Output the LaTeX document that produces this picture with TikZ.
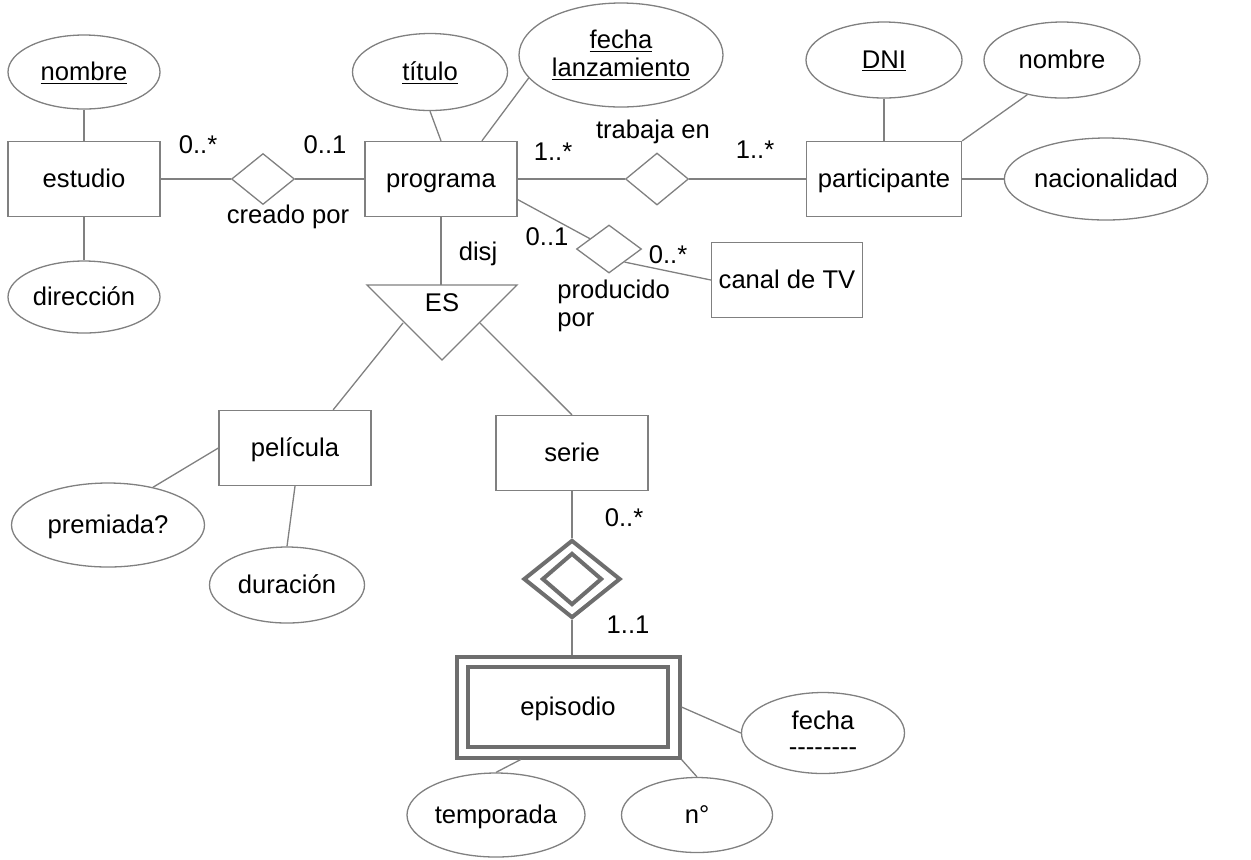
\documentclass[tikz,border=0pt]{standalone}
\usepackage{fontspec}
\setmainfont{Liberation Sans}
\usetikzlibrary{shapes,calc,positioning}
\definecolor{linegray}{RGB}{128,128,128}
\definecolor{weakgray}{RGB}{110,110,110}
\tikzset{
    every node/.style={font=\fontsize{12.8}{14}\selectfont},
    txt/.style={text height=9.5pt, text depth=1.5pt},
    entity/.style={rectangle, draw=linegray, line width=0.65pt, minimum width=76pt, minimum height=37.5pt, txt},
    attr/.style={ellipse, draw=linegray, line width=0.65pt, inner sep=0pt, minimum width=76pt, minimum height=37pt, txt},
    rel/.style={diamond, draw=linegray, line width=0.65pt, inner sep=0pt, minimum width=31.5pt, minimum height=25.5pt},
    weak/.style={rectangle, draw=weakgray, line width=2pt, inner sep=0pt, txt},
    weakrel/.style={diamond, draw=weakgray, line width=2pt, inner sep=0pt},
    conn/.style={draw=linegray, line width=0.65pt},
    card/.style={inner sep=0pt, txt},
    multi/.style={text height={}, text depth={}, align=center}
}

\begin{document}
\begin{tikzpicture}[x=0.5pt,y=-0.5pt]
    \useasboundingbox (0,0) rectangle (1251,859);

    % estudio
    \node[attr] (nombreE) at (84,72) {\underline{nombre}};
    \node[entity] (estudio) at (84,179) {estudio};
    \node[attr, minimum height=36pt] (direccion) at (84,297) {dirección};
    \node[rel] (creado) at (263,179) {};
    \node[card] (creadoL) at (288,215) {creado por};
    \node[card] (c1) at (198,145) {0..*};
    \node[card] (c2) at (325,145) {0..1};

    % programa
    \node[entity] (programa) at (441,179) {programa};
    \node[attr, minimum width=77.5pt, minimum height=38.5pt] (titulo) at (430,72) {\underline{título}};
    \node[attr, multi, minimum width=102pt, minimum height=52pt] (fechaL) at (621,55)
        {\underline{fecha}\\\underline{lanzamiento}};

    % participante
    \node[rel, minimum height=26pt] (trabaja) at (657,179) {};
    \node[card] (trabajaL) at (653,130) {trabaja en};
    \node[card] (c3) at (553,152) {1..*};
    \node[card] (c4) at (755,150) {1..*};
    \node[entity, minimum width=77.5pt] (participante) at (884,179) {participante};
    \node[attr, minimum width=78pt, minimum height=38pt] (DNI) at (884,60) {\underline{DNI}};
    \node[attr, minimum width=78pt, minimum height=38pt] (nombreP) at (1062,60) {nombre};
    \node[attr, minimum width=91.5pt, minimum height=41pt] (nacionalidad) at (1106,179) {nacionalidad};

    % canal de TV
    \node[rel, minimum width=32.5pt, minimum height=24pt] (producido) at (609,249) {};
    \node[card, multi, align=left, anchor=west] (producidoL) at (557,306) {producido\\por};
    \node[card] (c5) at (547,237) {0..1};
    \node[card] (c6) at (668,255) {0..*};
    \node[entity, minimum width=75.5pt] (canal) at (787,280) {canal de TV};

    % jerarquia
    \coordinate (estop) at (441,285);
    \coordinate (esl) at (403,323);
    \coordinate (esr) at (480,323);
    \draw[conn] (367,285) -- (517,285) -- (442,360) -- cycle;
    \node[card] (ES) at (442,303) {ES};
    \node[card] (disj) at (478,252) {disj};
    \node[entity] (pelicula) at (295,448) {película};
    \node[entity] (serie) at (572,453) {serie};
    \node[attr, minimum width=96.5pt, minimum height=42pt] (premiada) at (108,525) {premiada?};
    \node[attr, minimum width=77.5pt, minimum height=38pt] (duracion) at (287,585) {duración};

    % episodio
    \node[weakrel, minimum width=48.5pt, minimum height=39pt] (idserie) at (572,579) {};
    \node[weakrel, minimum width=30pt, minimum height=26pt] (idserieIn) at (572,579) {};
    \node[card] (c7) at (624,518) {0..*};
    \node[card] (c8) at (628,625) {1..1};
    \node[weak, minimum width=111.5pt, minimum height=50.5pt] (episodio) at (568,707) {};
    \node[weak, minimum width=100pt, minimum height=40pt] (episodioIn) at (568,707) {episodio};
    \node[attr, multi, minimum width=81.5pt, minimum height=40.5pt] (fechaE) at (823,733)
        {fecha\\[-1pt]{-}{-}{-}{-}{-}{-}{-}{-}};
    \node[attr, minimum width=89pt, minimum height=42pt] (temporada) at (496,815) {temporada};
    \node[attr, minimum width=75.5pt, minimum height=37.5pt] (numero) at (697,815) {n°};

    % conectores
    \draw[conn] (nombreE) -- (estudio);
    \draw[conn] (estudio) -- (direccion);
    \draw[conn] (estudio) -- (creado);
    \draw[conn] (creado) -- (programa);
    \draw[conn] (titulo.south) -- (programa.north);
    \draw[conn] (fechaL.194) -- (programa.43.5);
    \draw[conn] (programa) -- (trabaja);
    \draw[conn] (trabaja) -- (participante);
    \draw[conn] (DNI) -- (participante);
    \draw[conn] (nombreP.225) -- (participante.north east);
    \draw[conn] (participante) -- (nacionalidad);
    \draw[conn] (programa.-15) -- (producido);
    \draw[conn] (producido.-40) -- (canal.west);
    \draw[conn] (programa) -- (estop);
    \draw[conn] (esl) -- (pelicula.45);
    \draw[conn] (esr) -- (serie.north);
    \draw[conn] (pelicula.west) -- (premiada.40);
    \draw[conn] (pelicula.south) -- (duracion.north);
    \draw[conn] (serie) -- (idserie);
    \draw[conn] (idserie.south) -- (idserie.south |- episodio.north);
    \draw[conn] (episodio.east) -- (fechaE.west);
    \draw[conn] (episodio.-132) -- (temporada.north);
    \draw[conn] (episodio.south east) -- (numero.north);
\end{tikzpicture}
\end{document}
